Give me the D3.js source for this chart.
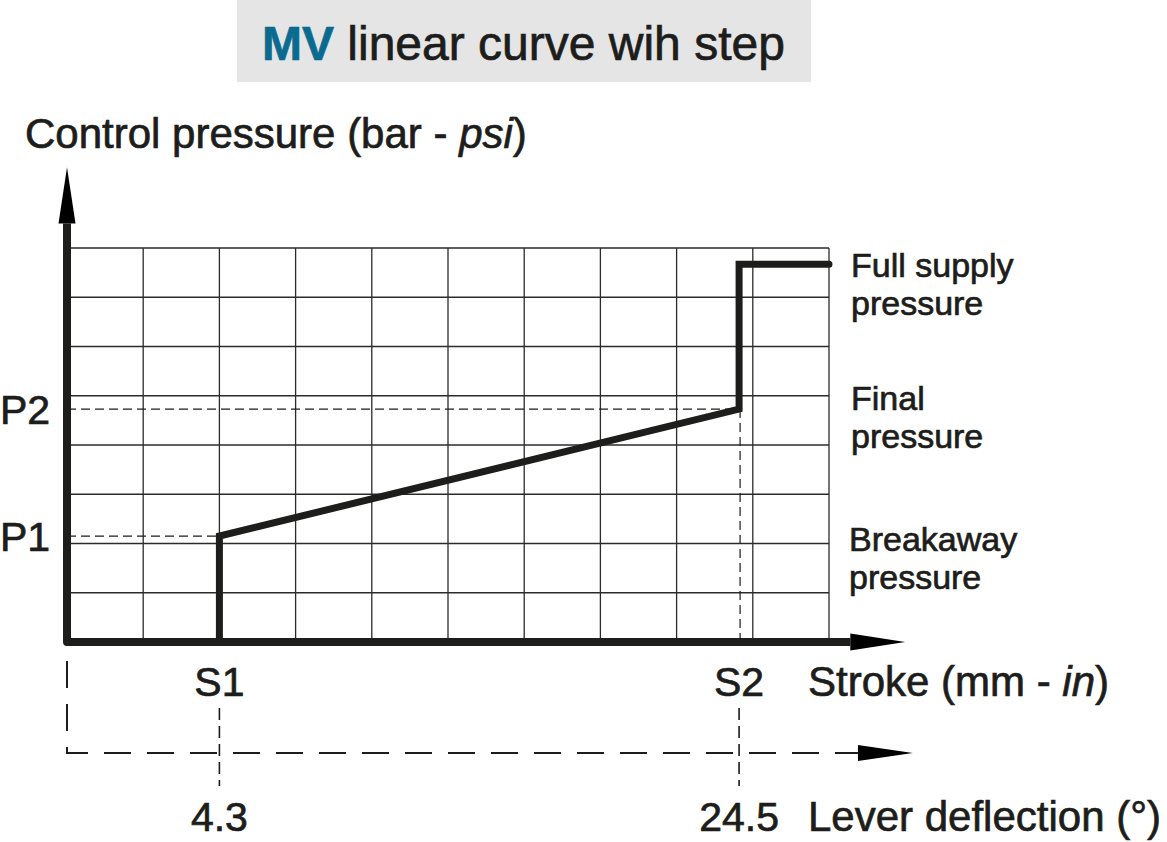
<!DOCTYPE html>
<html>
<head>
<meta charset="utf-8">
<script src="https://cdn.jsdelivr.net/npm/d3@7"></script>
<style>
  body { margin: 0; background: #fff; }
  text { font-family: "Liberation Sans", Arial, sans-serif; fill: #1d1d1b; stroke: #1d1d1b; stroke-width: 0.7px; }
</style>
</head>
<body>
<script>
// Data (grid units: 10 columns of stroke, 8 rows of pressure)
const gridCols = d3.range(0, 11);
const gridRows = d3.range(0, 9);
const strokeTicks = [
  { label: "S1", value: 2.0 },
  { label: "S2", value: 8.82 }
];
const leverTicks = [
  { label: "4.3", value: 2.0 },
  { label: "24.5", value: 8.82 }
];
const pressureTicks = [
  { label: "P1", value: 2.15 },
  { label: "P2", value: 4.73 }
];
const curveX = [2.0, 2.0, 8.82, 8.82, 10];
const curveY = [0, 2.15, 4.73, 7.67, 7.67];
const sideLabels = [
  { lines: ["Full supply", "pressure"], value: 7.67 },
  { lines: ["Final", "pressure"], value: 4.73 },
  { lines: ["Breakaway", "pressure"], value: 2.15 }
];

const w = 1167;
const h = 842;
const ink = "#1d1d1b";

const svg = d3.select("body").append("svg").attr("width", w).attr("height", h);

//   Scales
const x = d3.scaleLinear().domain([0, 10]).range([67, 829]);
const y = d3.scaleLinear().domain([0, 8]).range([642, 248]);

//   Title box
svg.append("rect")
  .attr("x", 237).attr("y", 0).attr("width", 574).attr("height", 82)
  .attr("fill", "#e5e5e5");
const title = svg.append("text").attr("x", 262).attr("y", 60).style("font-size", "48px");
title.append("tspan").text("MV").style("fill", "#0b6a8f").style("stroke", "#0b6a8f").style("font-weight", "bold");
title.append("tspan").text(" linear curve wih step");

//   Grid
svg.append("g").selectAll("line").data(gridCols).enter().append("line")
  .attr("x1", (d) => x(d)).attr("x2", (d) => x(d))
  .attr("y1", y(8)).attr("y2", y(0))
  .attr("stroke", "#2b2b2b").attr("stroke-width", 1.3);
svg.append("g").selectAll("line").data(gridRows).enter().append("line")
  .attr("x1", x(0)).attr("x2", x(10))
  .attr("y1", (d) => y(d)).attr("y2", (d) => y(d))
  .attr("stroke", "#2b2b2b").attr("stroke-width", 1.3);

//   Dashed guides inside the chart
pressureTicks.forEach((p, i) => {
  svg.append("line")
    .attr("x1", x(0)).attr("x2", x(strokeTicks[i].value))
    .attr("y1", y(p.value)).attr("y2", y(p.value))
    .attr("stroke", ink).attr("stroke-width", 1.2).attr("stroke-dasharray", "9,5");
});
svg.append("line")
  .attr("x1", x(strokeTicks[1].value) + 1).attr("x2", x(strokeTicks[1].value) + 1)
  .attr("y1", y(pressureTicks[1].value)).attr("y2", y(0))
  .attr("stroke", ink).attr("stroke-width", 1.2).attr("stroke-dasharray", "9,5");

//   Curve
const line = d3.line().x((d) => x(d[0])).y((d) => y(d[1]));
svg.append("path")
  .datum(curveX.map((d, i) => [d, curveY[i]]))
  .attr("d", line)
  .attr("fill", "none").attr("stroke", ink).attr("stroke-width", 7)
  .attr("stroke-linejoin", "miter").attr("stroke-linecap", "round");

//   Main axes
svg.append("path")
  .attr("d", `M${x(0)},${y(8.5)} L${x(0)},${y(0)} L${x(10.28)},${y(0)}`)
  .attr("fill", "none").attr("stroke", ink).attr("stroke-width", 8)
  .attr("stroke-linejoin", "round");
svg.append("path")
  .attr("d", `M${x(0) - 8.5},${y(8.5)} L${x(0) + 8.5},${y(8.5)} L${x(0)},${y(9.64)} Z`)
  .attr("fill", "#000");
svg.append("path")
  .attr("d", `M${x(10.28)},${y(0) - 8.5} L${x(10.28)},${y(0) + 8.5} L${x(11)},${y(0)} Z`)
  .attr("fill", "#000");

//   Lever axis (dashed)
const leverY = 753;
svg.append("path")
  .attr("d", `M${x(0)},661 L${x(0)},${leverY} L${x(10.38)},${leverY}`)
  .attr("fill", "none").attr("stroke", ink).attr("stroke-width", 2)
  .attr("stroke-dasharray", "27,16");
svg.append("path")
  .attr("d", `M${x(10.38)},${leverY - 8} L${x(10.38)},${leverY + 8} L${x(11.1)},${leverY} Z`)
  .attr("fill", "#000");
svg.append("g").selectAll("line").data(leverTicks).enter().append("line")
  .attr("x1", (d) => x(d.value)).attr("x2", (d) => x(d.value))
  .attr("y1", 708).attr("y2", 786)
  .attr("stroke", ink).attr("stroke-width", 1.6).attr("stroke-dasharray", "12,6");

//   Labels
svg.append("g").selectAll("text").data(pressureTicks).enter().append("text")
  .attr("x", 0).attr("y", (d) => y(d.value) + 15)
  .style("font-size", "41px").text((d) => d.label);
svg.append("g").selectAll("text").data(strokeTicks).enter().append("text")
  .attr("x", (d) => x(d.value)).attr("y", 696)
  .attr("text-anchor", "middle").style("font-size", "41px").text((d) => d.label);
svg.append("g").selectAll("text").data(leverTicks).enter().append("text")
  .attr("x", (d) => x(d.value)).attr("y", 831)
  .attr("text-anchor", "middle").style("font-size", "41px").text((d) => d.label);

const yTitle = svg.append("text").attr("x", 25).attr("y", 148).style("font-size", "42px");
yTitle.append("tspan").text("Control pressure (bar - ");
yTitle.append("tspan").text("psi").style("font-style", "italic");
yTitle.append("tspan").text(")");

const xTitle = svg.append("text").attr("x", 808).attr("y", 696).style("font-size", "42px");
xTitle.append("tspan").text("Stroke (mm - ");
xTitle.append("tspan").text("in").style("font-style", "italic");
xTitle.append("tspan").text(")");

svg.append("text").attr("x", 808).attr("y", 831).style("font-size", "42px")
  .text("Lever deflection (°)");

sideLabels.forEach((s, i) => {
  const t = svg.append("text")
    .attr("x", i === 2 ? 849 : 851)
    .attr("y", y(s.value) + (i === 0 ? 13 : i === 1 ? 1 : 15))
    .style("font-size", "34px");
  s.lines.forEach((l, j) => {
    t.append("tspan").attr("x", i === 2 ? 849 : 851).attr("dy", j === 0 ? 0 : 38).text(l);
  });
});
</script>
</body>
</html>
